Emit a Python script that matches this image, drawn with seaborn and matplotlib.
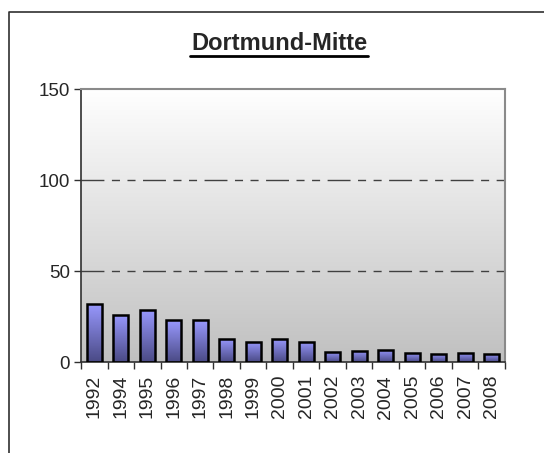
import numpy as np
import pandas as pd
import matplotlib
matplotlib.use("Agg")
import matplotlib.pyplot as plt
from matplotlib.lines import Line2D
from matplotlib.colors import LinearSegmentedColormap
import seaborn as sns

years = ["1992", "1994", "1995", "1996", "1997", "1998", "1999", "2000",
         "2001", "2002", "2003", "2004", "2005", "2006", "2007", "2008"]
values = [32, 26, 29, 23, 23, 12.7, 11, 12.8, 11, 5.8, 6.3, 7, 5.2, 4.7, 5, 4.5]
title = "Dortmund-Mitte"
yticks = [0, 50, 100, 150]

df = pd.DataFrame({"Jahr": years, "Wert": values})

sns.set_style("white")
plt.rcParams["font.family"] = ["Liberation Sans", "DejaVu Sans"]

fig = plt.figure(figsize=(5.44, 4.53), dpi=100)
ax = fig.add_axes([0.149, 0.2, 0.779, 0.6035])

sns.barplot(data=df, x="Jahr", y="Wert", ax=ax, width=0.56,
            color="#9999ff", edgecolor="black", linewidth=1.8, zorder=3)

ax.set_ylim(0, 150)
ax.set_xlim(-0.5, len(years) - 0.5)

# plot area gradient background
bg = LinearSegmentedColormap.from_list("bg", ["#c0c0c0", "#ffffff"])
grad = np.linspace(0, 1, 256).reshape(-1, 1)
ax.imshow(grad, cmap=bg, aspect="auto", origin="lower",
          extent=[-0.5, len(years) - 0.5, 0, 150], zorder=0)

# gradient fill for bars
barcm = LinearSegmentedColormap.from_list("bars", ["#4a4a85", "#9999ff"])
for p in ax.patches:
    x0, y0 = p.get_x(), p.get_y()
    w, h = p.get_width(), p.get_height()
    im = ax.imshow(grad, cmap=barcm, aspect="auto", origin="lower",
                   extent=[x0, x0 + w, y0, y0 + h], zorder=2.5)
    im.set_clip_path(p)
    p.set_facecolor("none")
ax.set_xlim(-0.5, len(years) - 0.5)
ax.set_ylim(0, 150)

# grid lines
for yv in [50, 100]:
    ax.axhline(yv, color="#404040", lw=1.0, zorder=1,
               dashes=(16.5, 5.4, 5.8, 5.4, 5.8, 5.4))

ax.set_yticks(yticks)
ax.set_yticklabels([str(v) for v in yticks], fontsize=13.5)
ax.set_xticks(range(len(years)))
ax.set_xticklabels(years, rotation=90, fontsize=14)
ax.tick_params(axis="x", which="major", length=0, pad=9)
ax.set_xticks(np.arange(-0.5, len(years)), minor=True)
ax.tick_params(axis="x", which="minor", length=5, width=1, color="#303030",
               direction="out", bottom=True)
ax.tick_params(axis="y", length=5, width=1, color="#303030", direction="out",
               left=True, pad=3)
ax.set_xlabel("")
ax.set_ylabel("")

for s in ["left", "bottom"]:
    ax.spines[s].set_color("#303030")
    ax.spines[s].set_linewidth(1.2)
for s in ["top", "right"]:
    ax.spines[s].set_color("#8a8a8a")
    ax.spines[s].set_linewidth(1.5)

fig.text(0.513, 0.905, title, ha="center", va="center", fontsize=17,
         fontweight="bold")
# underline for the title
fig.add_artist(Line2D([0.349, 0.676], [0.876, 0.876], color="black", lw=2.0))

# outer chart border (left and top visible)
fig.add_artist(Line2D([0.016, 0.016, 1.0], [0.0, 0.974, 0.974],
                      color="#303030", lw=1.2))

fig.savefig("out.png", dpi=100)
